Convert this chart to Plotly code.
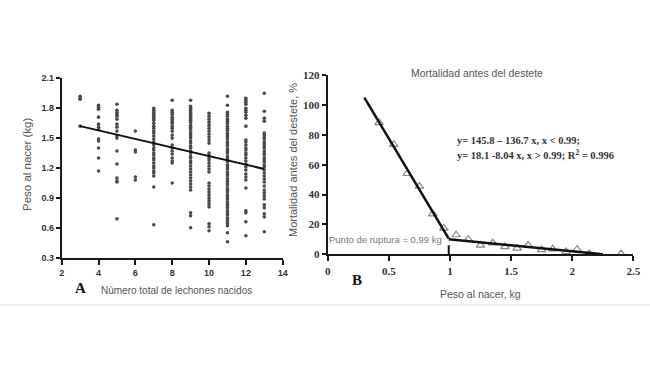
import plotly.graph_objects as go

# ---------------- Panel A data: birth weight by litter size ----------------
litter_3 = [1.92, 1.90, 1.89, 1.62]
litter_4 = [1.83, 1.81, 1.79, 1.71, 1.64, 1.61, 1.59, 1.49, 1.47, 1.40, 1.30, 1.17]
litter_5 = [1.84, 1.78, 1.76, 1.74, 1.72, 1.69, 1.64, 1.61, 1.57, 1.52, 1.50, 1.37,
            1.24, 1.10, 1.07, 1.06, 0.69]
litter_6 = [1.57, 1.38, 1.36, 1.11, 1.08]
litter_7 = [1.80, 1.78, 1.76, 1.74, 1.72, 1.70, 1.68, 1.65, 1.62, 1.60, 1.57, 1.55,
            1.52, 1.49, 1.46, 1.43, 1.40, 1.38, 1.35, 1.33, 1.30, 1.28, 1.25, 1.22,
            1.20, 1.17, 1.15, 1.12, 1.01, 0.63]
litter_8 = [1.88, 1.78, 1.76, 1.74, 1.71, 1.69, 1.67, 1.65, 1.62, 1.60, 1.57, 1.53,
            1.50, 1.43, 1.40, 1.37, 1.34, 1.30, 1.27, 1.25, 1.05]
litter_9 = [1.88, 1.82, 1.80, 1.78, 1.76, 1.74, 1.72, 1.70, 1.68, 1.66, 1.63, 1.61,
            1.59, 1.56, 1.54, 1.52, 1.50, 1.47, 1.45, 1.42, 1.40, 1.37, 1.35, 1.32,
            1.30, 1.27, 1.25, 1.22, 1.19, 1.16, 1.13, 1.10, 1.07, 1.04, 1.01, 0.98,
            0.75, 0.72, 0.60]
litter_10 = [1.75, 1.72, 1.69, 1.66, 1.63, 1.60, 1.57, 1.54, 1.51, 1.48, 1.45, 1.35,
             1.33, 1.30, 1.28, 1.25, 1.22, 1.19, 1.16, 1.05, 1.02, 0.99, 0.96, 0.93,
             0.90, 0.87, 0.84, 0.81, 0.64, 0.61, 0.57]
litter_11 = [1.92, 1.83, 1.76, 1.74, 1.72, 1.69, 1.67, 1.65, 1.62, 1.60, 1.58, 1.55,
             1.53, 1.51, 1.49, 1.46, 1.44, 1.42, 1.39, 1.37, 1.35, 1.32, 1.30, 1.28,
             1.26, 1.23, 1.21, 1.19, 1.16, 1.14, 1.12, 1.09, 1.07, 1.05, 1.03, 1.00,
             0.98, 0.96, 0.93, 0.91, 0.89, 0.86, 0.84, 0.82, 0.80, 0.77, 0.75, 0.73,
             0.70, 0.68, 0.66, 0.64, 0.62, 0.55, 0.46]
litter_12 = [1.90, 1.88, 1.86, 1.84, 1.80, 1.78, 1.76, 1.73, 1.70, 1.62, 1.48, 1.46,
             1.43, 1.40, 1.38, 1.35, 1.33, 1.30, 1.27, 1.24, 1.21, 1.18, 1.14, 1.11,
             1.08, 1.00, 0.77, 0.75, 0.66, 0.52]
litter_13 = [1.95, 1.77, 1.70, 1.67, 1.55, 1.53, 1.51, 1.49, 1.46, 1.44, 1.42, 1.40,
             1.37, 1.35, 1.33, 1.30, 1.28, 1.26, 1.23, 1.21, 1.18, 1.15, 1.12, 1.09,
             1.06, 1.02, 0.98, 0.95, 0.92, 0.89, 0.83, 0.80, 0.74, 0.71, 0.56]

litter_sizes = [3, 4, 5, 6, 7, 8, 9, 10, 11, 12, 13]
litter_weights = [litter_3, litter_4, litter_5, litter_6, litter_7, litter_8,
                  litter_9, litter_10, litter_11, litter_12, litter_13]

reg_a_x = [3, 13]
reg_a_y = [1.62, 1.19]

a_xticks = [2, 4, 6, 8, 10, 12, 14]
a_yticks = [0.3, 0.6, 0.9, 1.2, 1.5, 1.8, 2.1]

# ---------------- Panel B data: pre-weaning mortality ----------------
b_weight = [0.42, 0.54, 0.65, 0.75, 0.86, 0.95, 1.05, 1.15, 1.25, 1.35, 1.45,
            1.55, 1.64, 1.75, 1.84, 1.95, 2.04, 2.14, 2.40]
b_mortality = [88, 73.5, 54, 45.5, 27, 17.5, 13, 10, 6, 7.5, 5, 4, 6, 3, 3.5,
               1.8, 3.3, 0.3, 0.3]

seg1_x = [0.30, 0.99]
seg1_y = [104.8, 10.5]
seg2_x = [0.99, 2.25]
seg2_y = [10.1, 0.0]
breakpoint_x = 0.99
breakpoint_y = 10.1

b_xticks = [0, 0.5, 1, 1.5, 2, 2.5]
b_yticks = [0, 20, 40, 60, 80, 100, 120]

W, H = 650, 366

def px(x):
    return x / W

def py(y):
    return 1 - y / H

fig = go.Figure()

# Panel A scatter
xs, ys = [], []
for s, ws in zip(litter_sizes, litter_weights):
    xs += [s] * len(ws)
    ys += ws
fig.add_trace(go.Scatter(x=xs, y=ys, mode="markers",
                         marker=dict(size=3.6, color="#4a4a4a"),
                         xaxis="x", yaxis="y", showlegend=False))
fig.add_trace(go.Scatter(x=reg_a_x, y=reg_a_y, mode="lines",
                         line=dict(color="#111", width=2),
                         xaxis="x", yaxis="y", showlegend=False))

# Panel B
fig.add_trace(go.Scatter(x=b_weight, y=b_mortality, mode="markers",
                         marker=dict(symbol="triangle-up-open", size=7.5,
                                     color="#888", line=dict(width=1.2)),
                         xaxis="x2", yaxis="y2", showlegend=False))
fig.add_trace(go.Scatter(x=seg1_x, y=seg1_y, mode="lines",
                         line=dict(color="#111", width=2.5),
                         xaxis="x2", yaxis="y2", showlegend=False))
fig.add_trace(go.Scatter(x=seg2_x, y=seg2_y, mode="lines",
                         line=dict(color="#111", width=2.5),
                         xaxis="x2", yaxis="y2", showlegend=False))
fig.add_trace(go.Scatter(x=[breakpoint_x, breakpoint_x], y=[0, breakpoint_y],
                         mode="lines", line=dict(color="#111", width=2, dash="dash"),
                         xaxis="x2", yaxis="y2", showlegend=False))

sans_tick = dict(family="Liberation Sans, Arial", size=9, color="#333", weight="bold")
serif_tick = dict(family="Liberation Serif, Times New Roman", size=11, color="#333",
                  weight="bold")

axis_common = dict(showline=True, linecolor="#1a1a1a", linewidth=2, ticks="outside",
                   tickcolor="#1a1a1a", tickwidth=1.5, showgrid=False, zeroline=False,
                   automargin=False)

fig.update_layout(
    width=W, height=H,
    margin=dict(l=0, r=0, t=0, b=0, pad=0),
    paper_bgcolor="white", plot_bgcolor="white",
    xaxis=dict(domain=[px(61.7), px(282.7)], range=[2, 14], tickvals=a_xticks,
               anchor="y", ticklen=5, tickfont=sans_tick, **axis_common),
    yaxis=dict(domain=[py(257.7), py(78.3)], range=[0.3, 2.1], tickvals=a_yticks,
               tickformat=".1f", anchor="x", ticklen=4, tickfont=sans_tick,
               **axis_common),
    xaxis2=dict(domain=[px(327.7), px(633.3)], range=[0, 2.5], tickvals=b_xticks,
                anchor="y2", ticklen=5, tickfont=serif_tick, **axis_common),
    yaxis2=dict(domain=[py(254.3), py(75)], range=[0, 120], tickvals=b_yticks,
                anchor="x2", ticklen=4, tickfont=serif_tick, **axis_common),
)

gray_font = dict(family="Liberation Sans, Arial", color="#555")

annots = [
    dict(text="Peso al nacer (kg)", x=px(27), y=py(165), textangle=-90,
         font=dict(size=11.5, **gray_font)),
    dict(text="Número total de lechones nacidos", x=px(176), y=py(290),
         font=dict(size=10, **gray_font)),
    dict(text="<b>A</b>", x=px(80), y=py(288),
         font=dict(family="Liberation Serif", size=15, color="#111")),
    dict(text="Mortalidad antes del destete, %", x=px(293), y=py(160), textangle=-90,
         font=dict(size=11, **gray_font)),
    dict(text="Peso al nacer, kg", x=px(480.5), y=py(294),
         font=dict(size=10.5, **gray_font)),
    dict(text="<b>B</b>", x=px(357), y=py(280),
         font=dict(family="Liberation Serif", size=15, color="#111")),
    dict(text="Mortalidad antes del destete", x=px(477), y=py(73),
         font=dict(size=10.5, **gray_font)),
    dict(text="Punto de ruptura = 0,99 kg", x=px(444), y=py(240), xanchor="right",
         font=dict(size=9.5, family="Liberation Sans, Arial", color="#777")),
    dict(text="<b>y= 145.8 – 136.7 x, x &lt; 0.99;</b>", x=px(455), y=py(140),
         xanchor="left",
         font=dict(family="Liberation Serif", size=10.5, color="#333")),
    dict(text="<b>y= 18.1 -8.04 x, x &gt; 0.99; R<sup>2</sup> = 0.996</b>", x=px(455),
         y=py(154.5), xanchor="left",
         font=dict(family="Liberation Serif", size=10.5, color="#333")),
]
for a in annots:
    a.setdefault("xanchor", "center")
    fig.add_annotation(xref="paper", yref="paper", showarrow=False, yanchor="middle", **a)

fig.add_shape(type="line", xref="paper", yref="paper", x0=0, x1=1,
              y0=py(305), y1=py(305), line=dict(color="#e2e2e2", width=1))

fig.write_html("out.html",
               config={"displayModeBar": False},
               post_script="document.body.style.margin='0px';"
                           "document.body.style.overflow='hidden';")
